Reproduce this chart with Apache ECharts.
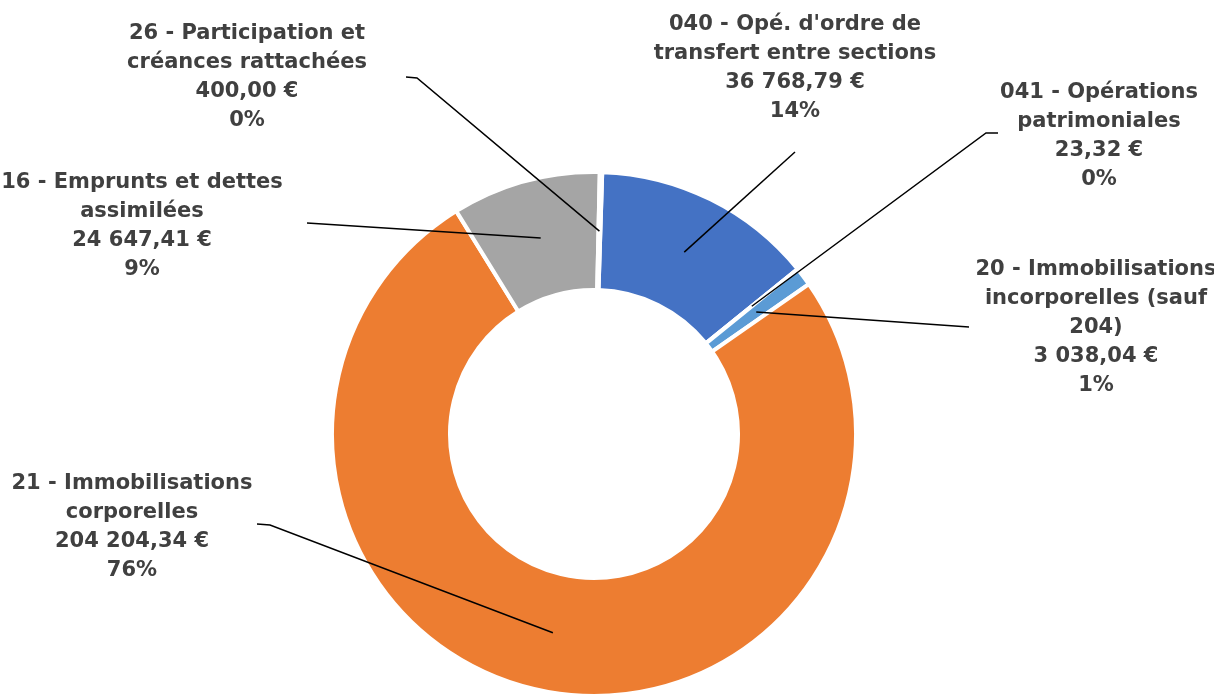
<!DOCTYPE html>
<html>
<head>
<meta charset="utf-8">
<script src="https://cdn.jsdelivr.net/npm/echarts@6/dist/echarts.min.js"></script>
<style>
  html, body { margin: 0; padding: 0; background: #fff; }
  #chart { width: 1214px; height: 695px; }
</style>
</head>
<body>
<div id="chart"></div>
<script>
// categories, in drawing order (clockwise from 12 o'clock)
var categories = [
    "040 - Opé. d'ordre de\ntransfert entre sections",
    "041 - Opérations\npatrimoniales",
    "20 - Immobilisations\nincorporelles (sauf\n204)",
    "21 - Immobilisations\ncorporelles",
    "16 - Emprunts et dettes\nassimilées",
    "26 - Participation et\ncréances rattachées"
];
var amounts = [36768.79, 23.32, 3038.04, 204204.34, 24647.41, 400.00];
var colors = ['#4472C4', '#FFC000', '#5B9BD5', '#ED7D31', '#A5A5A5', '#70AD47'];

// where the labels sit and where their leader lines leave them
var labelPos = [[795, 68], [1099, 136], [1096, 328], [132, 527], [142, 226], [247, 77]];
var leaderFrom = [
    [[795, 152], [795, 152]],
    [[998, 133], [986, 133]],
    [[969, 327], [969, 327]],
    [[257, 524], [270, 525]],
    [[307, 223], [307, 223]],
    [[406, 77], [417, 78]]
];

var CX = 594, CY = 434, R0 = 144, R1 = 262;
var START = 88.2; // first slice starts a little past 12 o'clock

function euro(v) {
    var parts = v.toFixed(2).split('.');
    var ent = parts[0].replace(/\B(?=(\d{3})+(?!\d))/g, ' ');
    return ent + ',' + parts[1] + ' €';
}

var total = amounts.reduce(function (a, b) { return a + b; }, 0);

// point in the middle of the ring, at the middle angle of slice i
function midPoint(i) {
    var before = 0;
    for (var k = 0; k < i; k++) before += amounts[k];
    var frac = (before + amounts[i] / 2) / total;
    var ang = -START * Math.PI / 180 + frac * Math.PI * 2;
    var rm = (R0 + R1) / 2;
    return [CX + rm * Math.cos(ang), CY + rm * Math.sin(ang)];
}

var myChart = echarts.init(document.getElementById('chart'));

var pieData = categories.map(function (c, i) {
    return { name: c, value: amounts[i], itemStyle: { color: colors[i] } };
});
// same slices again, invisible, only to carry labels + leader lines above the ring
var labelData = categories.map(function (c, i) {
    return { name: c, value: amounts[i] };
});

var option = {
    animation: false,
    series: [{
        type: 'pie',
        z: 2,
        center: [CX, CY],
        radius: [R0, R1],
        startAngle: START,
        clockwise: true,
        data: pieData,
        itemStyle: { borderColor: '#fff', borderWidth: 4 },
        label: { show: false },
        labelLine: { show: false },
        emphasis: { disabled: true }
    }, {
        type: 'pie',
        z: 5,
        silent: true,
        center: [CX, CY],
        radius: [R0, R1],
        startAngle: START,
        clockwise: true,
        avoidLabelOverlap: false,
        data: labelData,
        itemStyle: { color: 'rgba(0,0,0,0)', borderWidth: 0 },
        label: {
            show: true,
            position: 'outside',
            formatter: function (p) {
                return p.name + '\n' + euro(p.value) + '\n' + Math.round(p.percent) + '%';
            },
            fontFamily: 'DejaVu Sans',
            fontWeight: 'bold',
            fontSize: 21,
            lineHeight: 29,
            color: '#404040',
            align: 'center'
        },
        labelLine: {
            show: true,
            lineStyle: { color: '#000', width: 1.5 }
        },
        labelLayout: function (params) {
            var i = params.dataIndex;
            var m = midPoint(i);
            var f = leaderFrom[i];
            return {
                x: labelPos[i][0],
                y: labelPos[i][1],
                align: 'center',
                verticalAlign: 'middle',
                labelLinePoints: [m, f[1], f[0]]
            };
        },
        emphasis: { disabled: true }
    }]
};

myChart.setOption(option);
</script>
</body>
</html>
